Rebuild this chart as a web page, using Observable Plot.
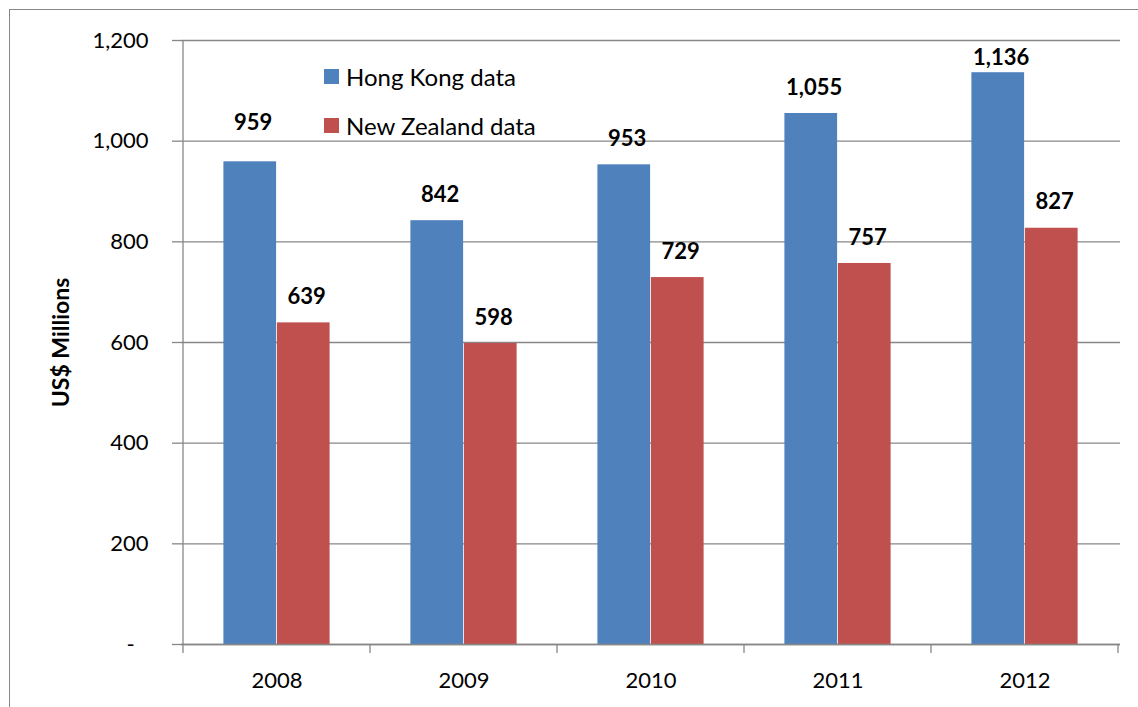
<!DOCTYPE html>
<html>
<head>
<meta charset="utf-8">
<script src="https://cdn.jsdelivr.net/npm/d3@7"></script>
<script src="https://cdn.jsdelivr.net/npm/@observablehq/plot@0.6"></script>
<style>
  html, body { margin: 0; padding: 0; background: #fff; overflow: hidden; }
  #page { position: relative; width: 1138px; height: 707px; overflow: hidden; font-family: Lato, sans-serif; }
  #outer { position: absolute; left: 9px; top: 9px; width: 1400px; height: 1000px; border: 1.5px solid #878787; box-sizing: border-box; }
  #chart { position: absolute; left: 0; top: 0; }
  #legend { position: absolute; left: 324px; top: 62px; font-family: Lato, sans-serif; font-size: 24px; color: #000; }
  .row { display: flex; align-items: center; height: 28px; margin-bottom: 21px; }
  .sw { width: 15px; height: 15px; margin-right: 7px; }
</style>
</head>
<body>
<div id="page">
  <div id="outer"></div>
  <div id="chart"></div>
  <div id="legend"></div>
</div>
<script>
const years = ["2008", "2009", "2010", "2011", "2012"];
const hongKong = [959, 842, 953, 1055, 1136];
const newZealand = [639, 598, 729, 757, 827];
const seriesNames = ["Hong Kong data", "New Zealand data"];
const seriesColors = ["#4F81BD", "#C0504D"];
const yTicks = [0, 200, 400, 600, 800, 1000, 1200];

// manual label nudges (px) as placed in the original
const labelNudge = {"2008 Hong Kong data": -13, "2012 Hong Kong data": 11};

const gridColor = "#878787";
const data = years.flatMap((year, i) => [
  {year, series: seriesNames[0], value: hongKong[i]},
  {year, series: seriesNames[1], value: newZealand[i]}
]);
const fmt = d3.format(",");
const yFmt = d => d === 0 ? "-\u2002\u2009" : fmt(d);
const nudgeOf = d => labelNudge[d.year + " " + d.series] ?? 0;

const barInsets = [
  {insetLeft: 40.4, insetRight: 93.9},
  {insetLeft: 93.9, insetRight: 40.4}
];
const labelDx = [-23.8, 29.7];

const labelMarks = [];
seriesNames.forEach((s, si) => {
  const rows = data.filter(d => d.series === s);
  [...new Set(rows.map(nudgeOf))].forEach(n => {
    labelMarks.push(Plot.text(rows.filter(d => nudgeOf(d) === n), {
      x: "year", y: "value", text: d => fmt(d.value),
      dx: labelDx[si], dy: -26 + n,
      fontWeight: "bold", fontSize: 22, fill: "#000"
    }));
  });
});

const boundaryTicks = (index, scales) => {
  const {x, y} = scales;
  const g = d3.create("svg:g").attr("stroke", gridColor).attr("stroke-width", 1.3);
  const edges = [...years.map(yr => x(yr)), x(years[years.length - 1]) + x.bandwidth()];
  edges.forEach(ex => g.append("line").attr("x1", ex).attr("x2", ex).attr("y1", y(0)).attr("y2", y(0) + 9));
  g.append("line").attr("x1", edges[0]).attr("x2", edges[0]).attr("y1", y(yTicks[yTicks.length - 1])).attr("y2", y(0));
  return g.node();
};

const chart = Plot.plot({
  width: 1138,
  height: 707,
  marginLeft: 181,
  marginRight: 18,
  marginTop: 40,
  marginBottom: 63,
  style: {fontFamily: "Lato, sans-serif", fontSize: "22px", color: "#000", background: "transparent", overflow: "visible"},
  x: {domain: years, paddingInner: 0, paddingOuter: 0},
  y: {domain: [0, 1200]},
  marks: [
    Plot.ruleY(yTicks, {stroke: gridColor, strokeWidth: 1.3}),
    ...seriesNames.map((s, si) => Plot.barY(data.filter(d => d.series === s), {
      x: "year", y: "value", fill: seriesColors[si], ...barInsets[si]
    })),
    Plot.ruleY([0], {stroke: gridColor, strokeWidth: 1.3}),
    Plot.axisY(yTicks, {tickSize: 9, tickPadding: 24, tickFormat: yFmt, stroke: gridColor, strokeWidth: 1.3, fill: "#000", fontSize: 22, label: null}),
    Plot.axisX({tickSize: 0, tickPadding: 28, fill: "#000", fontSize: 22, label: null}),
    boundaryTicks,
    Plot.text(["US$ Millions"], {frameAnchor: "left", textAnchor: "middle", lineAnchor: "middle", text: d => d, rotate: -90, dx: -120, fontWeight: "bold", fontSize: 23, fill: "#000"}),
    ...labelMarks
  ]
});
document.getElementById("chart").appendChild(chart);

const legend = document.getElementById("legend");
seriesNames.forEach((s, i) => {
  const row = document.createElement("div");
  row.className = "row";
  const sw = document.createElement("div");
  sw.className = "sw";
  sw.style.background = seriesColors[i];
  const t = document.createElement("span");
  t.textContent = s;
  row.appendChild(sw);
  row.appendChild(t);
  legend.appendChild(row);
});
</script>
</body>
</html>
